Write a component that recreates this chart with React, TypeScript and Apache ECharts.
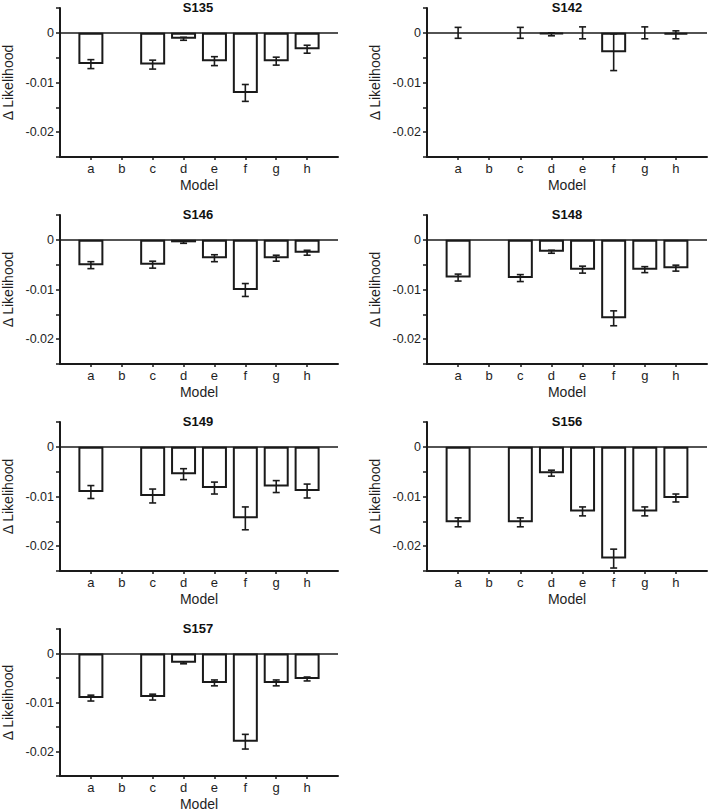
import React, { useEffect, useRef } from "react";
import * as echarts from "echarts";

const models = ["a", "b", "c", "d", "e", "f", "g", "h"];
const panelNames = ["S135", "S142", "S146", "S148", "S149", "S156", "S157"];
const yTickLabels: Record<number, string> = { 0: "0", [-10]: "-0.01", [-20]: "-0.02" };

const s135Mean = [-0.0063, 0, -0.0064, -0.0012, -0.0057, -0.0121, -0.0057, -0.0033];
const s135Err = [0.0009, 0, 0.0009, 0.0003, 0.0009, 0.0017, 0.0008, 0.0008];
const s142Mean = [0, 0, 0, -0.0003, 0, -0.0039, 0, -0.0004];
const s142Err = [0.0011, 0, 0.0011, 0.0003, 0.0012, 0.0037, 0.0012, 0.0008];
const s146Mean = [-0.0051, 0, -0.005, -0.0005, -0.0037, -0.0101, -0.0037, -0.0026];
const s146Err = [0.0007, 0, 0.0007, 0.0002, 0.0007, 0.0013, 0.0006, 0.0005];
const s148Mean = [-0.0076, 0, -0.0077, -0.0024, -0.006, -0.0158, -0.006, -0.0057];
const s148Err = [0.0007, 0, 0.0007, 0.0003, 0.0007, 0.0015, 0.0006, 0.0006];
const s149Mean = [-0.0091, 0, -0.0099, -0.0055, -0.0083, -0.0144, -0.008, -0.0089];
const s149Err = [0.0013, 0, 0.0014, 0.0011, 0.0012, 0.0023, 0.0012, 0.0014];
const s156Mean = [-0.0152, 0, -0.0152, -0.0053, -0.013, -0.0225, -0.013, -0.0103];
const s156Err = [0.0009, 0, 0.0009, 0.0006, 0.0009, 0.0019, 0.0009, 0.0008];
const s157Mean = [-0.0091, 0, -0.0089, -0.0019, -0.006, -0.018, -0.006, -0.0052];
const s157Err = [0.0006, 0, 0.0006, 0.0002, 0.0006, 0.0015, 0.0006, 0.0004];

const panelMeans = [s135Mean, s142Mean, s146Mean, s148Mean, s149Mean, s156Mean, s157Mean];
const panelErrs = [s135Err, s142Err, s146Err, s148Err, s149Err, s156Err, s157Err];

const COL_LEFT = [58, 427];
const ROW_TOP = [8, 215, 422, 629];
const GRID_W = 280;
const GRID_H = 149;
const INK = "#1a1a1a";
const FONT = "'Liberation Sans', Arial, Helvetica, sans-serif";

export default function App() {
  const ref = useRef<HTMLDivElement>(null);

  useEffect(() => {
    if (!ref.current) return;
    const chart = echarts.init(ref.current, undefined, { renderer: "svg" });

    const grids: any[] = [];
    const xAxes: any[] = [];
    const yAxes: any[] = [];
    const series: any[] = [];
    const graphics: any[] = [];
    const tickPositions = models.map((_, i) => i + 1);

    panelNames.forEach((name, p) => {
      const col = p % 2;
      const row = Math.floor(p / 2);
      const left = COL_LEFT[col];
      const top = ROW_TOP[row];
      grids.push({ left, top, width: GRID_W, height: GRID_H, containLabel: false });

      xAxes.push({
        gridIndex: p,
        type: "value",
        min: 0,
        max: 9,
        interval: 1,
        splitLine: { show: false },
        axisLine: { show: true, onZero: false, lineStyle: { color: INK, width: 2 } },
        axisTick: {
          show: true,
          length: 3,
          customValues: tickPositions,
          lineStyle: { color: INK, width: 1.5 },
        },
        axisLabel: {
          customValues: tickPositions,
          formatter: (v: number) => models[Math.round(v) - 1] ?? "",
          fontSize: 13,
          color: "#1e1e1e",
          margin: 5,
          fontFamily: FONT,
        },
        name: "Model",
        nameLocation: "middle",
        nameGap: 21,
        nameTextStyle: { fontSize: 14, color: "#1e1e1e", fontFamily: FONT },
      });

      yAxes.push({
        gridIndex: p,
        type: "value",
        min: -0.025,
        max: 0.005,
        interval: 0.005,
        splitLine: { show: false },
        axisLine: { show: true, lineStyle: { color: INK, width: 2 } },
        axisTick: { show: true, length: 4, lineStyle: { color: INK, width: 1.5 } },
        axisLabel: {
          formatter: (v: number) => yTickLabels[Math.round(v * 1000)] ?? "",
          fontSize: 12.5,
          color: "#1e1e1e",
          margin: 6,
          fontFamily: FONT,
        },
        name: "Δ Likelihood",
        nameLocation: "middle",
        nameGap: 45,
        nameTextStyle: { fontSize: 14, color: "#1e1e1e", fontFamily: FONT },
      });

      const means = panelMeans[p];
      const errs = panelErrs[p];

      series.push({
        type: "bar",
        name: name,
        xAxisIndex: p,
        yAxisIndex: p,
        barWidth: 25,
        data: means.map((v, i) =>
          v === 0
            ? { value: [i + 1, v], itemStyle: { borderWidth: 0, color: "transparent" } }
            : [i + 1, v]
        ),
        itemStyle: { color: "#ffffff", borderColor: INK, borderWidth: 2 },
        z: 2,
        markLine: {
          silent: true,
          symbol: ["none", "none"],
          label: { show: false },
          lineStyle: { color: INK, width: 1.5, type: "solid" },
          data: [{ yAxis: 0 }],
        },
      });

      series.push({
        type: "custom",
        name: name + " error",
        xAxisIndex: p,
        yAxisIndex: p,
        z: 5,
        encode: { x: 0, y: 1 },
        data: means.map((v, i) => [i + 1, v, errs[i]]),
        renderItem: (params: any, api: any) => {
          const x = api.value(0);
          const m = api.value(1);
          const e = api.value(2);
          if (!e) return null;
          const hi = api.coord([x, m + e]);
          const lo = api.coord([x, m - e]);
          const hw = 3.5;
          const st = { stroke: INK, lineWidth: 1.6 };
          return {
            type: "group",
            children: [
              { type: "line", shape: { x1: hi[0], y1: hi[1], x2: lo[0], y2: lo[1] }, style: st },
              { type: "line", shape: { x1: hi[0] - hw, y1: hi[1], x2: hi[0] + hw, y2: hi[1] }, style: st },
              { type: "line", shape: { x1: lo[0] - hw, y1: lo[1], x2: lo[0] + hw, y2: lo[1] }, style: st },
            ],
          };
        },
      });

      graphics.push({
        type: "text",
        x: left + GRID_W / 2,
        y: top - 1,
        style: {
          text: name,
          fontSize: 13,
          fontWeight: "bold",
          fontFamily: FONT,
          fill: "#111",
          align: "center",
          verticalAlign: "middle",
          textAlign: "center",
          textVerticalAlign: "middle",
        },
      });
    });

    chart.setOption({
      animation: false,
      backgroundColor: "#ffffff",
      textStyle: { fontFamily: FONT },
      grid: grids,
      xAxis: xAxes,
      yAxis: yAxes,
      series,
      graphic: graphics,
    });

    return () => chart.dispose();
  }, []);

  return (
    <div
      ref={ref}
      style={{ position: "absolute", left: 0, top: 0, width: 708, height: 812 }}
    />
  );
}
